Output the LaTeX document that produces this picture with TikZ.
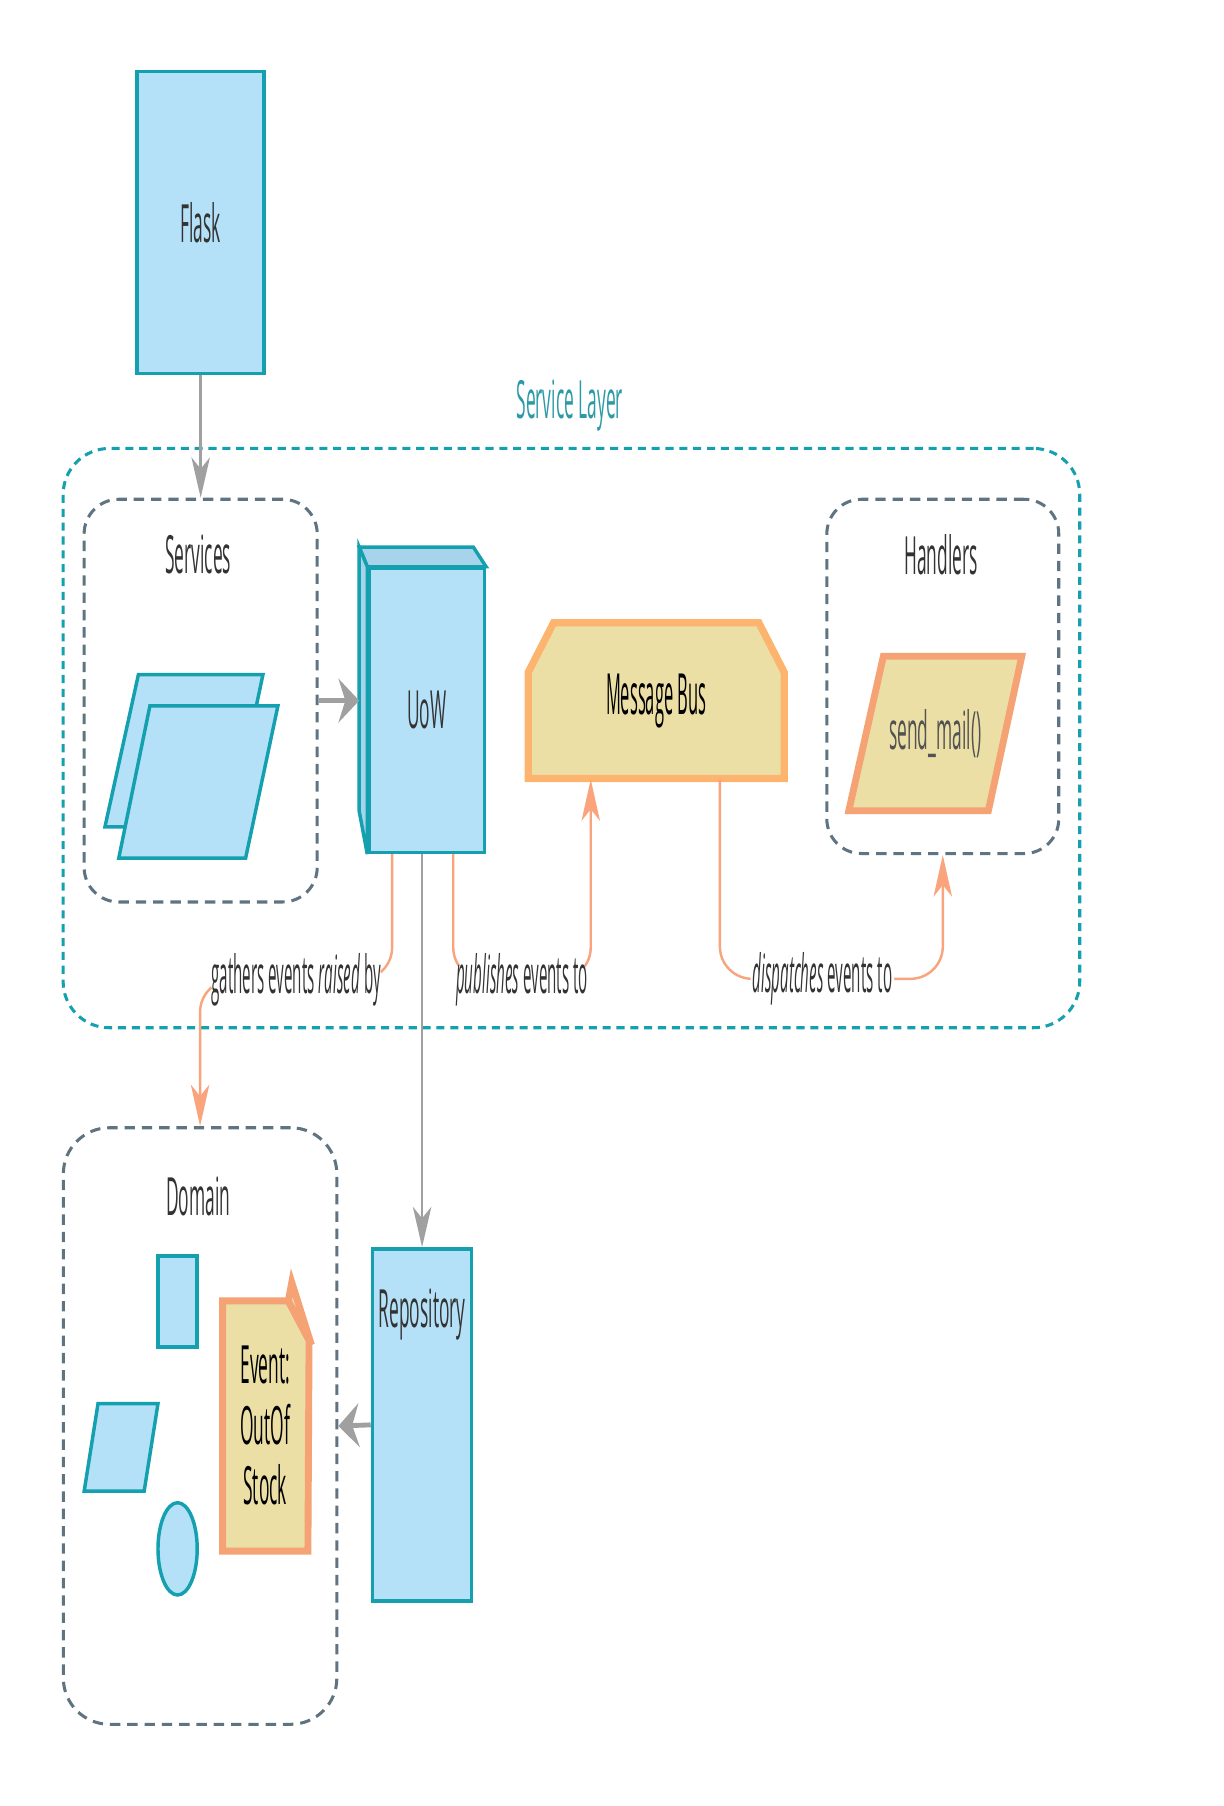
\documentclass[tikz,border=0pt]{standalone}
\usepackage{fontspec}
\setmainfont{Open Sans}[FakeStretch=0.33]
\usepackage{xcolor}
\usepackage{graphicx}
\usepackage{tikz}
\usetikzlibrary{calc,arrows.meta}
\definecolor{skyfill}{HTML}{B5E1F8}
\definecolor{skyside}{HTML}{A7D4EA}
\definecolor{tealline}{HTML}{14A0AE}
\definecolor{layerteal}{HTML}{2C9AA6}
\definecolor{sand}{HTML}{EBDFA6}
\definecolor{busline}{HTML}{FDB46E}
\definecolor{salmon}{HTML}{F5A274}
\definecolor{evorange}{HTML}{F9A47C}
\definecolor{arrowgray}{HTML}{A0A0A0}
\definecolor{slate}{HTML}{5F7480}
\definecolor{ink}{HTML}{333333}
\newcommand{\narrow}[2][0.87]{\scalebox{#1}[1]{#2}}
\tikzset{
  bluebox/.style={draw=tealline, fill=skyfill, line width=0.85pt},
  sandbox/.style={draw=salmon, fill=sand, line width=1.7pt},
  groupbox/.style={draw=slate, line width=0.75pt, dash pattern=on 0.09cm off 0.06cm, rounded corners=0.3cm},
  layerbox/.style={draw=tealline, line width=0.75pt, dash pattern=on 0.07cm off 0.05cm, rounded corners=0.4cm},
  thinarrow/.style={draw=arrowgray, line width=0.6pt, -{Stealth[length=0.35cm,width=0.16cm,inset=0.1cm]}},
  fatarrow/.style={draw=arrowgray, line width=1.2pt, -{Stealth[length=0.18cm,width=0.38cm,inset=0.06cm]}},
  evline/.style={draw=evorange, line width=0.6pt, rounded corners=0.28cm, -{Stealth[length=0.36cm,width=0.16cm,inset=0.1cm]}},
  lab/.style={text=ink, font=\fontsize{13}{14.8}\selectfont, align=center, inner sep=1pt},
  edgelab/.style={lab, fill=white, inner sep=0.5pt},
}
\begin{document}
\begin{tikzpicture}[x=0.01cm, y=-0.01cm]
  \useasboundingbox (0,0) rectangle (1061,1566);

  \node[layerbox, minimum width=8.81cm, minimum height=5.02cm] (layer) at (495.5,640) {};
  \node[lab, text=layerteal] at (494,352) {Service Layer};

  \node[bluebox, lab, minimum width=1.10cm, minimum height=2.62cm] (flask) at (174,193) {Flask};

  \node[groupbox, minimum width=2.02cm, minimum height=3.49cm] (services) at (174,607.5) {};
  \node[lab] at (172,481) {Services};
  \draw[bluebox] (120,585) -- (228,585) -- (200,717) -- (91,717) -- cycle;
  \draw[bluebox] (130,612) -- (241,612) -- (213,744) -- (103,744) -- cycle;

  \node[bluebox, lab, minimum width=1.00cm, minimum height=2.46cm] (uow) at (370,616) {UoW};
  \draw[bluebox, fill=skyside] (uow.north west) -- ++(-7,-17) -- ++(99,0) -- (uow.north east) -- cycle;
  \draw[bluebox, fill=skyside] (uow.north west) -- ++(-7,-17) -- ++(0,229) -- (uow.south west) -- cycle;

  \draw[sandbox, draw=busline, line width=1.8pt] (458,675) -- (458,583) -- (480,540) -- (658,540) -- (680,583) -- (680,675) -- cycle;
  \node[lab, text=black, font=\fontsize{14}{16}\selectfont, minimum width=2.22cm, minimum height=1.35cm] (bus) at (569,607.5) {\narrow[0.88]{Message Bus}};

  \node[groupbox, minimum width=2.01cm, minimum height=3.07cm] (handlers) at (817.5,586.5) {};
  \node[lab] at (816,481) {Handlers};
  \draw[sandbox] (766,569) -- (886,569) -- (857,703) -- (736,703) -- cycle;
  \node[lab, text=ink!85] (sendmail) at (811,636) {send\_mail()};

  \node[groupbox, rounded corners=0.4cm, minimum width=2.37cm, minimum height=5.17cm] (domain) at (173.5,1236.5) {};
  \node[lab] at (172,1037) {Domain};
  \draw[bluebox] (137,1089) rectangle (171,1168);
  \draw[bluebox] (85,1217) -- (137,1217) -- (125,1293) -- (73,1293) -- cycle;
  \draw[bluebox] (154,1343) ellipse [x radius=0.17cm, y radius=0.40cm];
  \draw[sandbox] (193,1128) -- (250,1128) -- (268,1162) -- (267,1345) -- (193,1345) -- cycle;
  \draw[sandbox] (250,1128) -- (253,1112) -- (270,1166) -- cycle;
  \node[lab, text=black] (event) at (230,1236) {Event:\\OutOf\\Stock};

  \node[bluebox, minimum width=0.86cm, minimum height=3.05cm] (repo) at (366,1235.5) {};
  \node[lab] at (366,1140) {Repository};

  \draw[thinarrow] (flask.south) -- (services.north);
  \draw[fatarrow, shorten >=0.07cm] (services.east) -- (services.east -| uow.west);
  \draw[thinarrow] (uow.south -| repo.north) -- (repo.north);
  \draw[fatarrow] (repo.west) -- (domain.east);
  \draw[evline] ($(uow.south)+(-30,0)$) -- ++(0,109) -| node[edgelab, pos=0.25] {\narrow{gathers events \textit{raised} by}} (domain.north);
  \draw[evline] ($(uow.south)+(23,0)$) -- ++(0,109) -| node[edgelab, pos=0.25] {\narrow{\textit{publishes} events to}} ($(bus.south west)+(55,0)$);
  \draw[evline] ($(bus.south west)+(167,0)$) -- ++(0,173) -| node[edgelab, pos=0.23] {\narrow{\textit{dispatches} events to}} (handlers.south);
\end{tikzpicture}
\end{document}
